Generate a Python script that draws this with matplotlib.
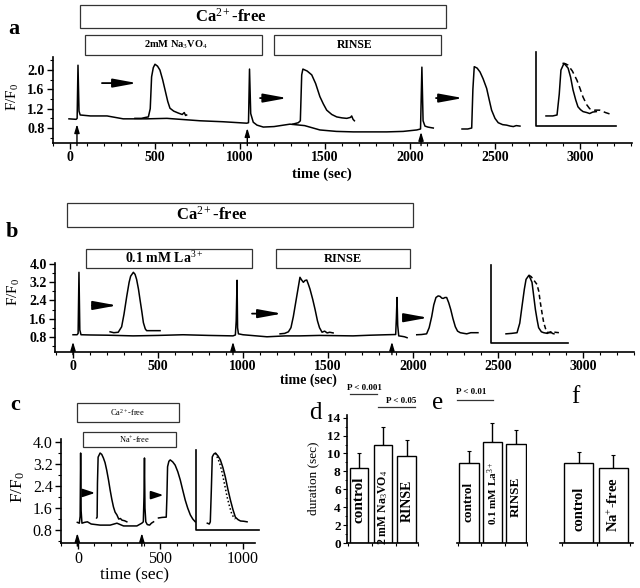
import numpy as np
import matplotlib
matplotlib.use("Agg")
import matplotlib.pyplot as plt
from matplotlib.patches import Rectangle

plt.rcParams['font.family'] = ['Liberation Serif', 'DejaVu Serif']
plt.rcParams['mathtext.fontset'] = 'custom'
plt.rcParams['mathtext.rm'] = 'Liberation Serif'
plt.rcParams['mathtext.it'] = 'Liberation Serif:italic'
plt.rcParams['mathtext.bf'] = 'Liberation Serif:bold'

W, H = 640, 588

# -------------------------------------------------------------------------
# Panel a: vanadate (time in s, F/F0)
# -------------------------------------------------------------------------
a_main_t = [-6, 36, 42, 47, 53, 60, 120, 218, 313, 450, 570, 765, 900, 1040, 1050, 1056, 1063, 1078,
            1100, 1137, 1200, 1294, 1380, 1470, 1567, 1667, 1863, 1960, 2040, 2062, 2070, 2077, 2088,
            2105, 2120, 2137]
a_main_v = [0.99, 0.98, 1.00, 2.10, 1.15, 1.07, 1.05, 1.05, 0.99, 0.99, 1.00, 0.95, 0.93, 0.90, 0.91,
            2.02, 1.10, 0.92, 0.86, 0.82, 0.83, 0.88, 0.85, 0.76, 0.73, 0.72, 0.72, 0.73, 0.76, 0.78,
            2.06, 0.95, 0.84, 0.82, 0.81, 0.80]
a_exp1_t = [382, 420, 445, 461, 472, 480, 490, 500, 515, 529, 545, 559, 575, 588, 610, 637, 660, 672, 680, 686]
a_exp1_v = [1.00, 1.00, 1.02, 1.03, 1.20, 1.86, 2.05, 2.12, 2.08, 2.00, 1.80, 1.59, 1.35, 1.21, 1.15, 1.11,
            1.08, 1.12, 1.06, 1.07]
a_exp2_t = [1310, 1343, 1355, 1363, 1370, 1395, 1422, 1445, 1470, 1490, 1510, 1540, 1569, 1600, 1628, 1650,
            1657, 1665, 1673]
a_exp2_v = [0.88, 0.91, 0.95, 1.90, 2.02, 1.98, 1.90, 1.72, 1.45, 1.30, 1.17, 1.08, 1.03, 1.01, 1.00, 1.02,
            1.05, 0.98, 0.95]
a_exp3_t = [2306, 2340, 2363, 2370, 2378, 2395, 2412, 2430, 2451, 2465, 2480, 2500, 2519, 2545, 2568, 2590,
            2608, 2625, 2647]
a_exp3_v = [0.78, 0.78, 0.80, 1.60, 2.07, 2.04, 1.96, 1.82, 1.62, 1.40, 1.17, 1.00, 0.91, 0.87, 0.86, 0.84,
            0.83, 0.85, 0.84]
a_ins_t = [2800, 2840, 2865, 2878, 2888, 2906, 2930, 2945, 2959, 2975, 2988, 3003, 3018, 3040, 3057, 3075, 3096]
a_ins_v = [1.05, 1.05, 1.07, 1.50, 2.00, 2.14, 2.04, 1.85, 1.59, 1.38, 1.24, 1.18, 1.14, 1.12, 1.10, 1.13, 1.14]
a_insd_t = [2897, 2915, 2930, 2955, 2982, 3000, 3018, 3040, 3057, 3085, 3116, 3150, 3194]
a_insd_v = [2.14, 2.13, 2.10, 1.98, 1.79, 1.62, 1.44, 1.28, 1.20, 1.17, 1.17, 1.12, 1.07]
a_frame = ([2741, 2741, 3212], [2.37, 0.84, 0.84])
a_stim_t = [41, 1043, 2065]
a_stim_tip = [0.88, 0.80, 0.72]
a_harrows = [(188, 394, 1.73), (1118, 1278, 1.42), (2153, 2312, 1.42)]
a_boxes = [(59, 2212, 1.337, 1.605, 'Ca$^{2+}$-free', 947, 12, 'bold'),
           (88, 1129, 1.023, 1.256, '2mM Na$_3$VO$_4$', 624, 7.5, 'bold'),
           (1200, 2182, 1.023, 1.256, 'RINSE', 1676, 8.5, 'bold')]

# -------------------------------------------------------------------------
# Panel b: lanthanum
# -------------------------------------------------------------------------
b_main_t = [0, 24, 30, 35, 40, 47, 100, 200, 353, 500, 647, 800, 941, 955, 960, 965, 968, 973, 1000, 1141,
            1250, 1335, 1450, 1647, 1750, 1843, 1898, 1902, 1906, 1910, 1916, 1935, 1950, 1965]
b_main_v = [0.89, 0.89, 0.95, 3.64, 1.10, 0.89, 0.88, 0.87, 0.84, 0.86, 0.89, 0.86, 0.84, 0.88, 1.5, 3.29,
            1.20, 0.93, 0.89, 0.80, 0.84, 0.84, 0.86, 0.84, 0.87, 0.89, 0.90, 1.6, 2.53, 1.30, 0.84, 0.82,
            0.80, 0.76]
b_exp1_t = [218, 240, 266, 286, 300, 316, 330, 339, 355, 365, 374, 385, 394, 405, 414, 425, 433, 460, 490, 512]
b_exp1_v = [1.02, 0.98, 1.00, 1.24, 1.80, 2.58, 3.20, 3.47, 3.64, 3.55, 3.33, 2.90, 2.44, 1.90, 1.42, 1.15,
            1.07, 1.07, 1.07, 1.07]
b_exp2_t = [1218, 1245, 1267, 1282, 1296, 1316, 1335, 1345, 1355, 1365, 1375, 1385, 1394, 1410, 1424, 1438,
            1450, 1465, 1480, 1495, 1510, 1530]
b_exp2_v = [0.93, 0.95, 1.02, 1.20, 1.69, 2.58, 3.42, 3.30, 3.20, 3.28, 3.30, 3.10, 2.90, 2.45, 2.00, 1.50,
            1.20, 1.00, 1.05, 0.97, 1.00, 0.97]
b_exp3_t = [2022, 2050, 2080, 2095, 2110, 2122, 2135, 2148, 2159, 2170, 2178, 2188, 2198, 2210, 2222, 2235,
            2249, 2262, 2278, 2300, 2316, 2340, 2382]
b_exp3_v = [0.89, 0.90, 0.93, 1.20, 1.69, 2.20, 2.53, 2.60, 2.58, 2.50, 2.49, 2.53, 2.53, 2.30, 2.00, 1.60,
            1.24, 1.05, 0.98, 0.95, 0.93, 0.98, 0.98]
b_ins_t = [2547, 2580, 2612, 2628, 2641, 2655, 2665, 2682, 2700, 2710, 2720, 2730, 2739, 2755, 2769, 2790,
           2810, 2820, 2829]
b_ins_v = [0.93, 0.95, 0.98, 1.40, 2.13, 2.90, 3.33, 3.51, 3.20, 2.60, 2.00, 1.55, 1.20, 1.02, 0.98, 0.95,
           1.02, 0.95, 0.93]
b_insd_t = [2682, 2695, 2710, 2720, 2729, 2740, 2749, 2760, 2769, 2780, 2788, 2810, 2835, 2859]
b_insd_v = [3.51, 3.45, 3.30, 3.20, 3.11, 2.80, 2.31, 1.80, 1.42, 1.15, 1.00, 0.98, 1.00, 0.98]
b_frame = ([2459, 2459, 2912], [3.96, 0.53, 0.53])
b_stim_t = [0, 941, 1876]
b_stim_tip = [0.58, 0.58, 0.58]
b_harrows = [(112, 259, 2.18), (1053, 1229, 1.82), (1953, 2088, 1.64)]
b_boxes = [(-35, 2000, 1.404, 1.674, 'Ca$^{2+}$-free', 818, 12, 'bold'),
           (76, 1053, 0.944, 1.157, '0.1 mM La$^{3+}$', 535, 10, 'bold'),
           (1194, 1982, 0.944, 1.157, 'RINSE', 1588, 9, 'bold')]

# -------------------------------------------------------------------------
# Panel c: Na+-free
# -------------------------------------------------------------------------
c_main_t = [-4, 8, 13, 16, 19, 24, 40, 57, 80, 134, 195, 236, 276, 357, 387, 396, 400, 403, 406, 411, 420,
            434, 445, 458]
c_main_v = [1.08, 1.05, 1.3, 3.60, 1.5, 1.05, 1.08, 1.10, 1.02, 0.98, 0.98, 1.05, 0.95, 0.95, 1.05, 1.10,
            2.0, 3.42, 1.6, 1.10, 1.0, 0.98, 1.05, 1.10]
c_exp1_t = [113, 116, 118, 122, 134, 144, 154, 164, 174, 185, 195, 205, 215, 225, 236, 247, 257, 267, 282, 296]
c_exp1_v = [1.24, 1.27, 2.5, 3.45, 3.60, 3.55, 3.42, 3.25, 2.98, 2.62, 2.25, 1.92, 1.64, 1.45, 1.35, 1.20,
            1.22, 1.16, 1.14, 1.10]
c_exp2_t = [488, 510, 535, 539, 543, 551, 559, 574, 589, 605, 620, 635, 650, 665, 681, 696, 711]
c_exp2_v = [1.24, 1.26, 1.27, 2.0, 3.10, 3.30, 3.35, 3.28, 3.16, 2.92, 2.62, 2.25, 1.89, 1.60, 1.35, 1.20, 1.10]
c_ins_t = [784, 796, 802, 808, 814, 823, 833, 848, 863, 878, 893, 908, 924, 939, 954, 970, 985, 1005, 1025]
c_ins_v = [1.05, 1.02, 1.10, 2.20, 3.46, 3.56, 3.60, 3.50, 3.35, 3.08, 2.73, 2.30, 1.89, 1.55, 1.27, 1.18,
           1.13, 1.12, 1.10]
c_insd_t = [833, 843, 858, 873, 889, 904, 919, 934, 954]
c_insd_v = [3.60, 3.46, 3.25, 2.91, 2.45, 2.00, 1.65, 1.35, 1.20]
c_frame = ([717, 717, 1100], [3.71, 0.80, 0.80])
c_stim_t = [-4, 387]
c_stim_tip = [0.69, 0.69]
c_harrows = [(33, 104, 2.15), (448, 518, 2.07)]
c_boxes = [(-6, 612, 1.163, 1.346, 'Ca$^{2+}$-free', 303, 6, 'normal'),
           (30, 594, 0.923, 1.067, 'Na$^{+}$-free', 345, 6, 'normal')]

# -------------------------------------------------------------------------
# Panels d-f: duration (sec), mean and SD
# -------------------------------------------------------------------------
d_labels = ['control', '2 mM Na$_3$VO$_4$', 'RINSE']
d_mean = [8.4, 10.9, 9.7]
d_err = [1.7, 2.1, 1.8]
e_labels = ['control', '0.1 mM La$^{3+}$', 'RINSE']
e_mean = [8.9, 11.3, 11.1]
e_err = [1.4, 2.1, 1.5]
f_labels = ['control', 'Na$^{+}$-free']
f_mean = [8.95, 8.4]
f_err = [1.25, 1.45]

fig = plt.figure(figsize=(6.4, 5.88), dpi=100)


def add_axes_px(left, top, right, bottom):
    return fig.add_axes([left / W, 1 - bottom / H, (right - left) / W, (bottom - top) / H])


def ftext(x, y, s, **kw):
    fig.text(x / W, 1 - y / H, s, ha='center', va='center', **kw)


def trace_axes(ax, xlim, ylim, xt, xminor, yt, yminor, weight, size):
    ax.set_xlim(*xlim)
    ax.set_ylim(*ylim)
    for s in ('top', 'right'):
        ax.spines[s].set_visible(False)
    for s in ('left', 'bottom'):
        ax.spines[s].set_linewidth(1.2)
    ax.set_xticks(xt, [str(x) for x in xt], fontweight=weight, fontsize=size)
    ax.set_yticks(yt, [f"{y:.1f}" for y in yt], fontweight=weight, fontsize=size)
    ax.set_xticks(xminor, minor=True)
    ax.set_yticks(yminor, minor=True)
    ax.tick_params(which='major', length=4, width=1, pad=2)
    ax.tick_params(which='minor', length=2.5, width=0.8)
    ax.patch.set_alpha(0)


def decorate(ax, boxes, harrows, stim_t, stim_tip, frame, hs):
    tr = ax.get_xaxis_transform()
    for t0, t1, y0, y1, label, tx, fs, fw in boxes:
        ax.add_patch(Rectangle((t0, y0), t1 - t0, y1 - y0, transform=tr, fill=False,
                               ec='#333333', lw=0.9, clip_on=False))
        ax.text(tx, (y0 + y1) / 2, label, transform=tr, ha='center', va='center',
                fontsize=fs, fontweight=fw)
    for t0, t1, v in harrows:
        ax.annotate('', xy=(t1, v), xytext=(t0, v),
                    arrowprops=dict(arrowstyle=f'-|>,head_length={hs[0]},head_width={hs[1]}',
                                    mutation_scale=12, lw=1.3, color='k', shrinkA=0, shrinkB=0))
    y_bot = ax.get_ylim()[0]
    for t, tip in zip(stim_t, stim_tip):
        ax.annotate('', xy=(t, tip), xytext=(t, y_bot - 0.03 * (ax.get_ylim()[1] - y_bot)),
                    arrowprops=dict(arrowstyle='-|>,head_length=0.5,head_width=0.15',
                                    mutation_scale=10, lw=1.0, color='k', shrinkA=0, shrinkB=0),
                    annotation_clip=False)
    ax.plot(frame[0], frame[1], color='k', lw=1.2, clip_on=False)


# --- panel a ---
ax_a = add_axes_px(53, 57, 632, 143)
trace_axes(ax_a, (-100, 3306), (0.49, 2.27), list(range(0, 3001, 500)), list(range(-100, 3301, 100)),
           [0.8, 1.2, 1.6, 2.0], [0.6, 1.0, 1.4, 1.8, 2.2], 'bold', 10)
for t, v in [(a_main_t, a_main_v), (a_exp1_t, a_exp1_v), (a_exp2_t, a_exp2_v), (a_exp3_t, a_exp3_v),
             (a_ins_t, a_ins_v)]:
    ax_a.plot(t, v, color='k', lw=1.1, clip_on=False)
ax_a.plot(a_insd_t, a_insd_v, color='k', lw=1.1, ls=(0, (4, 2.5)), clip_on=False)
decorate(ax_a, a_boxes, a_harrows, a_stim_t, a_stim_tip, a_frame, (1.2, 0.22))
ftext(14, 29, 'a', fontsize=16, fontweight='bold')
ftext(13, 97, 'F/F$_0$', fontsize=11, rotation=90)
ftext(322, 174, 'time (sec)', fontsize=10.5, fontweight='bold')

# --- panel b ---
ax_b = add_axes_px(55, 263, 634, 352)
trace_axes(ax_b, (-106, 3300), (0.13, 4.05), list(range(0, 3001, 500)), list(range(-100, 3301, 100)),
           [0.8, 1.6, 2.4, 3.2, 4.0], [0.4, 1.2, 2.0, 2.8, 3.6], 'bold', 10)
for t, v in [(b_main_t, b_main_v), (b_exp1_t, b_exp1_v), (b_exp2_t, b_exp2_v), (b_exp3_t, b_exp3_v),
             (b_ins_t, b_ins_v)]:
    ax_b.plot(t, v, color='k', lw=1.1, clip_on=False)
ax_b.plot(b_insd_t, b_insd_v, color='k', lw=1.1, ls=(0, (3, 2)), clip_on=False)
decorate(ax_b, b_boxes, b_harrows, b_stim_t, b_stim_tip, b_frame, (1.2, 0.22))
ftext(12, 232, 'b', fontsize=16, fontweight='bold')
ftext(14, 292, 'F/F$_0$', fontsize=11, rotation=90)
ftext(308, 380, 'time (sec)', fontsize=10, fontweight='bold')

# --- panel c ---
ax_c = add_axes_px(61, 439, 255, 543)
trace_axes(ax_c, (-103, 1073), (0.33, 4.11), [0, 500, 1000], list(range(-100, 1001, 100)),
           [0.8, 1.6, 2.4, 3.2, 4.0], [0.4, 1.2, 2.0, 2.8, 3.6], 'normal', 11.5)
for t, v in [(c_main_t, c_main_v), (c_exp1_t, c_exp1_v), (c_exp2_t, c_exp2_v), (c_ins_t, c_ins_v)]:
    ax_c.plot(t, v, color='k', lw=1.1, clip_on=False)
ax_c.plot(c_insd_t, c_insd_v, color='k', lw=1.1, ls=(0, (1, 1.5)), clip_on=False)
decorate(ax_c, c_boxes, c_harrows, c_stim_t, c_stim_tip, c_frame, (0.6, 0.2))
ftext(15, 405, 'c', fontsize=16, fontweight='bold')
ftext(18, 487, 'F/F$_0$', fontsize=12.5, rotation=90)
ftext(135, 575, 'time (sec)', fontsize=12.5)


# --- panels d, e, f ---
def bar_axes(left, right, mean, err, labels, width, xlim, text_y, text_fs, show_y):
    ax = add_axes_px(left, 415, right, 543)
    x = np.arange(len(mean)) + (0.5 if len(mean) == 3 else 0.53)
    ax.bar(x, mean, width=width, color='white', edgecolor='k', lw=1.0, zorder=2)
    ax.errorbar(x, mean, yerr=[np.zeros(len(err)), err], fmt='none', ecolor='k', elinewidth=1.0,
                capsize=1.5, capthick=0.8, zorder=1)
    for xi, lab, ty, fs in zip(x, labels, text_y, text_fs):
        ax.text(xi, ty, lab, rotation=90, ha='center', va='center', fontsize=fs, fontweight='bold')
    ax.set_xlim(*xlim)
    ax.set_ylim(0, 14.3)
    for s in ('top', 'right'):
        ax.spines[s].set_visible(False)
    ax.spines['bottom'].set_linewidth(1.2)
    edges = list(x - width / 2 - 0.05) + [x[-1] + width / 2 + 0.05]
    ax.set_xticks(edges, [''] * len(edges))
    ax.tick_params(axis='x', length=2.5, width=0.8)
    if show_y:
        ax.spines['left'].set_linewidth(1.2)
        yt = list(range(0, 15, 2))
        ax.set_yticks(yt, [str(v) for v in yt], fontweight='bold', fontsize=9.5)
        ax.set_yticks(list(range(1, 15, 2)), minor=True)
        ax.tick_params(axis='y', which='major', length=3, pad=1.5)
        ax.tick_params(axis='y', which='minor', length=1.5)
    else:
        ax.spines['left'].set_visible(False)
        ax.set_yticks([])
    ax.patch.set_alpha(0)
    return ax


bar_axes(347, 418, d_mean, d_err, d_labels, 0.79, (0, 2.96), [4.8, 4.0, 4.7], [11, 8.5, 10], True)
bar_axes(457, 527, e_mean, e_err, e_labels, 0.83, (0, 2.92), [4.6, 5.6, 5.2], [9.5, 8, 9.5], False)
bar_axes(560, 633, f_mean, f_err, f_labels, 0.83, (0, 2.09), [3.8, 4.25], [10.5, 10.5], False)

ftext(315, 413, 'd', fontsize=18)
ftext(438, 403, 'e', fontsize=18)
ftext(575, 397, 'f', fontsize=18)
ftext(313, 478, 'duration (sec)', fontsize=9.5, rotation=90)

# significance markers
for x0, x1, y_line, tx, ty, label in [(350, 377, 394, 364, 388, 'P < 0.001'),
                                       (378, 415, 407, 401, 401, 'P < 0.05'),
                                       (457, 493, 400, 471, 392, 'P < 0.01')]:
    fig.add_artist(plt.Line2D([x0 / W, x1 / W], [1 - y_line / H, 1 - y_line / H], color='#333333', lw=0.9))
    ftext(tx, ty, label, fontsize=6.5, fontweight='bold')

fig.savefig("out.png", dpi=100)
